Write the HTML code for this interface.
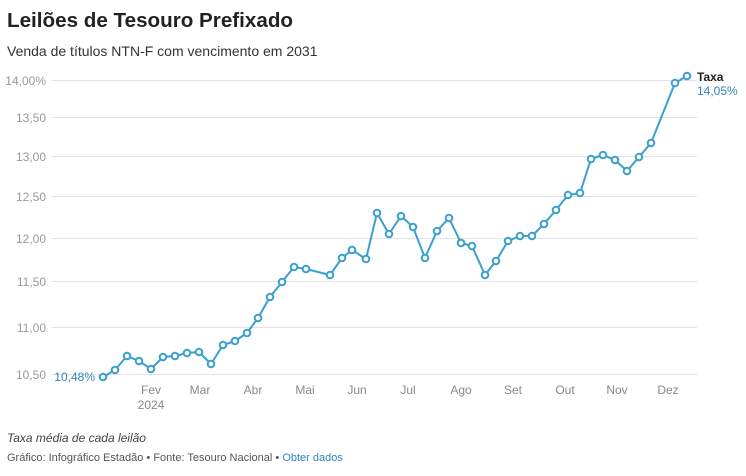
<!DOCTYPE html>
<html><head><meta charset="utf-8"><style>
body{margin:0;width:746px;height:471px;background:#fff;font-family:"Liberation Sans",sans-serif;overflow:hidden}
</style></head><body>
<svg width="746" height="471" xmlns="http://www.w3.org/2000/svg" font-family="Liberation Sans, sans-serif">
<text x="7" y="27" font-size="20" font-weight="bold" fill="#222" textLength="286" lengthAdjust="spacingAndGlyphs">Leilões de Tesouro Prefixado</text>
<text x="7" y="56" font-size="14" fill="#333">Venda de títulos NTN-F com vencimento em 2031</text>
<g stroke="#e2e2e2" stroke-width="1">
<line x1="52" x2="697" y1="80.5" y2="80.5"/><line x1="52" x2="697" y1="117.5" y2="117.5"/>
<line x1="52" x2="697" y1="156.5" y2="156.5"/><line x1="52" x2="697" y1="196.5" y2="196.5"/>
<line x1="52" x2="697" y1="238.5" y2="238.5"/><line x1="52" x2="697" y1="281.5" y2="281.5"/>
<line x1="52" x2="697" y1="327.5" y2="327.5"/><line x1="52" x2="697" y1="374.5" y2="374.5"/>
</g>
<g font-size="12" fill="#999" text-anchor="end">
<text x="46" y="85">14,00%</text><text x="46" y="122">13,50</text><text x="46" y="161">13,00</text>
<text x="46" y="201">12,50</text><text x="46" y="243">12,00</text><text x="46" y="286">11,50</text>
<text x="46" y="332">11,00</text><text x="46" y="379">10,50</text>
</g>
<g font-size="12" fill="#888" text-anchor="middle">
<text x="151" y="394">Fev</text><text x="151" y="409">2024</text><text x="200" y="394">Mar</text>
<text x="253" y="394">Abr</text><text x="305" y="394">Mai</text><text x="357" y="394">Jun</text>
<text x="408" y="394">Jul</text><text x="461" y="394">Ago</text><text x="513" y="394">Set</text>
<text x="565" y="394">Out</text><text x="617" y="394">Nov</text><text x="668" y="394">Dez</text>
</g>
<text x="95" y="381" font-size="12" fill="#2f86b8" text-anchor="end">10,48%</text>
<text x="697" y="81" font-size="12" fill="#222" font-weight="bold">Taxa</text>
<text x="697" y="95" font-size="12" fill="#2f86b8">14,05%</text>
<polyline fill="none" stroke="#3a9fcf" stroke-width="2" stroke-linejoin="round" points="103,377 115,370 127,356 139,361 151,369 163,357 175,356 187,353 199,352 211,364 223,345 235,341 247,333 258,318 270,297 282,282 294,267 306,269 330,275 342,258 352,250 366,259 377,213 389,234 401,216 413,227 425,258 437,231 449,218 461,243 472,246 485,275 496,261 508,241 520,236 532,236 544,224 556,210 568,195 580,193 591,159 603,155 615,160 627,171 639,157 651,143 675,83 687,76"/>
<g fill="#fff" stroke="#3a9fcf" stroke-width="2">
<circle cx="103" cy="377" r="3.3"/><circle cx="115" cy="370" r="3.3"/><circle cx="127" cy="356" r="3.3"/><circle cx="139" cy="361" r="3.3"/><circle cx="151" cy="369" r="3.3"/><circle cx="163" cy="357" r="3.3"/><circle cx="175" cy="356" r="3.3"/><circle cx="187" cy="353" r="3.3"/><circle cx="199" cy="352" r="3.3"/><circle cx="211" cy="364" r="3.3"/><circle cx="223" cy="345" r="3.3"/><circle cx="235" cy="341" r="3.3"/><circle cx="247" cy="333" r="3.3"/><circle cx="258" cy="318" r="3.3"/><circle cx="270" cy="297" r="3.3"/><circle cx="282" cy="282" r="3.3"/><circle cx="294" cy="267" r="3.3"/><circle cx="306" cy="269" r="3.3"/><circle cx="330" cy="275" r="3.3"/><circle cx="342" cy="258" r="3.3"/><circle cx="352" cy="250" r="3.3"/><circle cx="366" cy="259" r="3.3"/><circle cx="377" cy="213" r="3.3"/><circle cx="389" cy="234" r="3.3"/><circle cx="401" cy="216" r="3.3"/><circle cx="413" cy="227" r="3.3"/><circle cx="425" cy="258" r="3.3"/><circle cx="437" cy="231" r="3.3"/><circle cx="449" cy="218" r="3.3"/><circle cx="461" cy="243" r="3.3"/><circle cx="472" cy="246" r="3.3"/><circle cx="485" cy="275" r="3.3"/><circle cx="496" cy="261" r="3.3"/><circle cx="508" cy="241" r="3.3"/><circle cx="520" cy="236" r="3.3"/><circle cx="532" cy="236" r="3.3"/><circle cx="544" cy="224" r="3.3"/><circle cx="556" cy="210" r="3.3"/><circle cx="568" cy="195" r="3.3"/><circle cx="580" cy="193" r="3.3"/><circle cx="591" cy="159" r="3.3"/><circle cx="603" cy="155" r="3.3"/><circle cx="615" cy="160" r="3.3"/><circle cx="627" cy="171" r="3.3"/><circle cx="639" cy="157" r="3.3"/><circle cx="651" cy="143" r="3.3"/><circle cx="675" cy="83" r="3.3"/><circle cx="687" cy="76" r="3.3"/>
</g>
<text x="7" y="442" font-size="12" font-style="italic" fill="#444">Taxa média de cada leilão</text>
<text x="7" y="461" font-size="11" fill="#555">Gráfico: Infográfico Estadão • Fonte: Tesouro Nacional • <tspan fill="#2f86b8">Obter dados</tspan></text>
</svg>
</body></html>
